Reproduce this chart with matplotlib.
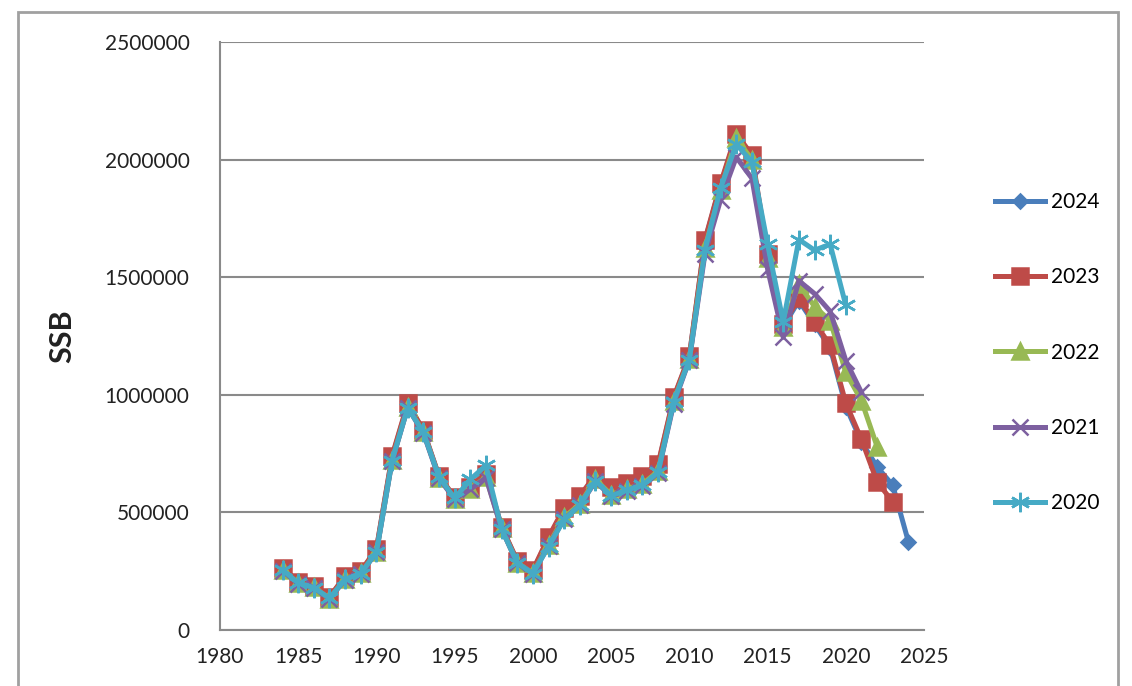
import matplotlib
matplotlib.use("Agg")
from matplotlib import pyplot as plt
from matplotlib.patches import Rectangle

plt.rcParams['font.family'] = ['Lato', 'DejaVu Sans']

# SSB by assessment year
years_2024 = list(range(1984, 2025))
ssb_2024 = [262000, 203000, 186000, 139000, 228000, 248000, 342000, 735000, 960000, 848000,
            652000, 563000, 608000, 660000, 438000, 292000, 252000, 390000, 515000, 565000,
            655000, 605000, 620000, 650000, 700000, 985000, 1162000, 1655000, 1895000, 2100000,
            2010000, 1590000, 1290000, 1400000, 1300000, 1200000, 950000, 800000, 694000, 615000,
            375000]

years_2023 = list(range(1984, 2024))
ssb_2023 = [265000, 205000, 188000, 140000, 230000, 250000, 345000, 740000, 965000, 850000,
            655000, 565000, 610000, 665000, 440000, 295000, 255000, 395000, 520000, 570000,
            660000, 610000, 625000, 655000, 705000, 990000, 1165000, 1660000, 1900000, 2110000,
            2020000, 1600000, 1300000, 1410000, 1310000, 1210000, 965000, 810000, 630000, 545000]

years_2022 = list(range(1984, 2023))
ssb_2022 = [255000, 198000, 182000, 134000, 218000, 242000, 332000, 722000, 948000, 842000,
            648000, 558000, 600000, 650000, 432000, 286000, 242000, 362000, 480000, 535000,
            640000, 575000, 600000, 620000, 675000, 972000, 1152000, 1625000, 1870000, 2090000,
            2000000, 1580000, 1290000, 1470000, 1375000, 1315000, 1095000, 975000, 780000]

years_2021 = list(range(1984, 2022))
ssb_2021 = [252000, 196000, 180000, 133000, 214000, 240000, 330000, 718000, 945000, 838000,
            645000, 556000, 598000, 648000, 430000, 284000, 240000, 358000, 472000, 530000,
            632000, 568000, 592000, 612000, 668000, 962000, 1148000, 1600000, 1830000, 2010000,
            1920000, 1535000, 1245000, 1485000, 1430000, 1355000, 1145000, 1010000]

years_2020 = list(range(1984, 2021))
ssb_2020 = [255000, 200000, 180000, 135000, 215000, 240000, 330000, 720000, 945000, 840000,
            650000, 560000, 640000, 700000, 430000, 285000, 240000, 355000, 470000, 530000,
            635000, 570000, 595000, 615000, 670000, 970000, 1150000, 1615000, 1880000, 2065000,
            1990000, 1640000, 1310000, 1660000, 1615000, 1640000, 1380000]

series = [
    ('2024', years_2024, ssb_2024, '#4A7EBB', 'D', 7),
    ('2023', years_2023, ssb_2023, '#BE4B48', 's', 11),
    ('2022', years_2022, ssb_2022, '#98B954', '^', 11),
    ('2021', years_2021, ssb_2021, '#7D60A0', 'x', 11),
    ('2020', years_2020, ssb_2020, '#46AAC5', (6, 2, 0), 14),
]

fig = plt.figure(figsize=(11.32, 6.86), dpi=100)
ax = fig.add_axes([0.1943, 0.0816, 0.6220, 0.8572])

for label, x, y, color, marker, ms in series:
    ax.plot(x, y, color=color, linewidth=3.6, marker=marker, markersize=ms,
            markeredgewidth=1.8, markeredgecolor=color, markerfacecolor=color, label=label)

ax.set_xlim(1980, 2025)
ax.set_ylim(0, 2500000)
ax.set_xticks(range(1980, 2026, 5))
ax.set_yticks(range(0, 2500001, 500000))
ax.set_yticklabels([str(v) for v in range(0, 2500001, 500000)])

ax.grid(axis='y', color='#8a8a8a', linewidth=1.5)
ax.set_axisbelow(True)
for side in ['top', 'right']:
    ax.spines[side].set_visible(False)
for side in ['left', 'bottom']:
    ax.spines[side].set_color('#8a8a8a')
    ax.spines[side].set_linewidth(1.5)
ax.tick_params(axis='both', length=0, labelsize=15, labelcolor='#222222')
ax.tick_params(axis='y', pad=22)
ax.tick_params(axis='x', pad=12)

ax.set_ylabel('SSB', fontsize=22, fontweight='bold', color='#222222', labelpad=20)

ax.legend(loc='center left', bbox_to_anchor=(0.862, 0.486), bbox_transform=fig.transFigure,
          frameon=False, fontsize=15, labelspacing=2.65, handlelength=2.4, handletextpad=0.3)

# chart area border
fig.patches.append(Rectangle((18 / 1132, -0.01), 1100 / 1132, 1 - 12 / 686 + 0.01,
                             transform=fig.transFigure, fill=False,
                             edgecolor='#a0a0a0', linewidth=2))

fig.savefig('out.png', dpi=100)
